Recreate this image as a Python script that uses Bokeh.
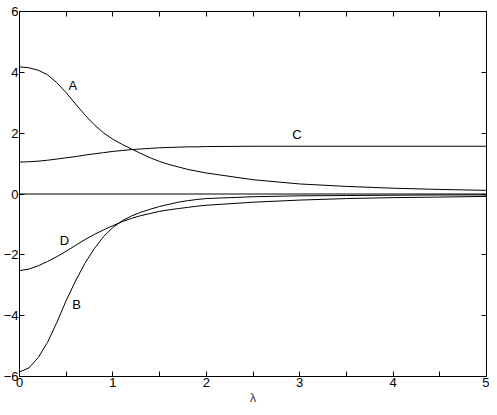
from bokeh.plotting import figure
from bokeh.models import FixedTicker, LinearAxis, Range1d, Span, Label
from bokeh.embed import file_html
from bokeh.resources import INLINE

lam = [0.0, 0.1, 0.2, 0.3, 0.4, 0.5, 0.6, 0.7, 0.8, 0.9, 1.0, 1.1, 1.2, 1.3, 1.4,
       1.5, 1.6, 1.7, 1.8, 1.9, 2.0, 2.5, 3.0, 3.5, 4.0, 4.5, 5.0]
curve_A = [4.18, 4.15, 4.07, 3.92, 3.66, 3.33, 2.96, 2.60, 2.28, 2.01, 1.80, 1.63, 1.48,
           1.33, 1.19, 1.07, 0.97, 0.89, 0.81, 0.75, 0.69, 0.47, 0.33, 0.25, 0.19, 0.15, 0.12]
curve_B = [-5.85, -5.72, -5.38, -4.88, -4.22, -3.50, -2.86, -2.28, -1.80, -1.40, -1.10,
           -0.88, -0.72, -0.60, -0.50, -0.41, -0.34, -0.27, -0.22, -0.18, -0.15, -0.09,
           -0.06, -0.05, -0.04, -0.03, -0.03]
curve_C = [1.05, 1.06, 1.08, 1.11, 1.15, 1.19, 1.23, 1.28, 1.32, 1.36, 1.40, 1.43, 1.46,
           1.48, 1.50, 1.52, 1.53, 1.54, 1.55, 1.55, 1.56, 1.57, 1.57, 1.57, 1.57, 1.57, 1.57]
curve_D = [-2.52, -2.47, -2.36, -2.22, -2.06, -1.88, -1.69, -1.50, -1.33, -1.18, -1.04,
           -0.91, -0.80, -0.71, -0.64, -0.57, -0.52, -0.48, -0.44, -0.40, -0.37, -0.27,
           -0.20, -0.15, -0.12, -0.10, -0.08]
labels = ["A", "B", "C", "D"]
label_x = [0.57, 0.61, 2.97, 0.48]
label_y = [3.58, -3.64, 1.96, -1.52]
x_ticks = [0, 1, 2, 3, 4, 5]
x_minor = [0.5, 1.5, 2.5, 3.5, 4.5]
y_ticks = [-6, -4, -2, 0, 2, 4, 6]

FONT = "Liberation Sans"
FS = "13px"

p = figure(width=489, height=407, output_backend="svg", toolbar_location=None,
           x_range=Range1d(0, 5), y_range=Range1d(-6, 6),
           min_border_left=16, min_border_right=3, min_border_top=11, min_border_bottom=0)
p.background_fill_color = "white"
p.border_fill_color = "white"
p.outline_line_color = "black"
p.outline_line_width = 1
p.grid.visible = False


def style_axis(ax, ticks, minor, show_labels):
    ax.ticker = FixedTicker(ticks=ticks, minor_ticks=minor)
    ax.axis_line_color = "black"
    ax.major_tick_in = 5
    ax.major_tick_out = 0
    ax.minor_tick_in = 5
    ax.minor_tick_out = 0
    ax.major_tick_line_color = "black"
    ax.minor_tick_line_color = "black"
    ax.major_label_text_font = FONT
    ax.major_label_text_font_size = FS
    ax.major_label_text_color = "black"
    ax.major_label_standoff = 1
    if not show_labels:
        ax.major_label_text_font_size = "0px"
        ax.major_label_text_alpha = 0
        ax.major_label_standoff = 0


style_axis(p.xaxis[0], x_ticks, x_minor, True)
style_axis(p.yaxis[0], y_ticks, [], True)
p.xaxis[0].axis_label = "λ"
p.xaxis[0].axis_label_text_font = FONT
p.xaxis[0].axis_label_text_font_size = FS
p.xaxis[0].axis_label_text_font_style = "normal"
p.xaxis[0].axis_label_standoff = 0

top = LinearAxis()
style_axis(top, x_ticks, x_minor, False)
p.add_layout(top, "above")
right = LinearAxis()
style_axis(right, y_ticks, [], False)
p.add_layout(right, "right")

p.add_layout(Span(location=0, dimension="width", line_color="black", line_width=1))

for ys in (curve_A, curve_B, curve_C, curve_D):
    p.line(lam, ys, line_color="black", line_width=1)

for t, lx, ly in zip(labels, label_x, label_y):
    p.add_layout(Label(x=lx, y=ly, text=t, text_font=FONT, text_font_size=FS,
                       text_align="center", text_baseline="middle", text_color="black"))

open("out.html", "w").write(file_html(p, INLINE))
